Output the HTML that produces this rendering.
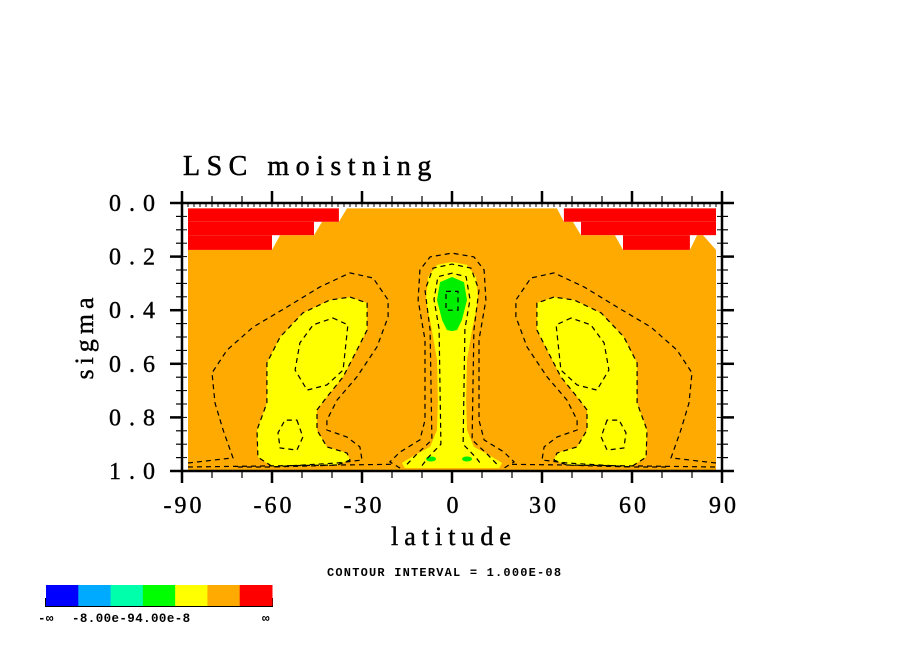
<!DOCTYPE html>
<html><head><meta charset="utf-8"><style>
body{margin:0;background:#fff;}
svg{display:block;font-family:"Liberation Serif",serif;}
</style></head><body>
<svg id="chart" width="904" height="654" viewBox="0 0 904 654" xmlns="http://www.w3.org/2000/svg">
<rect width="904" height="654" fill="#fff"/>
<g id="fills"></g>
<g id="lines"></g>
<g id="axes"></g>
<text x="183" y="175" font-size="28" letter-spacing="6.5" stroke="#000" stroke-width="0.5">LSC moistning</text>
<text x="454" y="545" font-size="26" letter-spacing="6" text-anchor="middle" stroke="#000" stroke-width="0.4">latitude</text>
<text transform="translate(93,336) rotate(-90)" font-size="26" letter-spacing="5" text-anchor="middle" stroke="#000" stroke-width="0.4">sigma</text>
<text x="327" y="576" font-family="Liberation Mono, monospace" font-weight="bold" font-size="12" letter-spacing="1.2">CONTOUR INTERVAL = 1.000E-08</text>
<g id="cbar"></g>
</svg>
<script>
const xTickLabels=["-90","-60","-30","0","30","60","90"];
const xTickValues=[-90,-60,-30,0,30,60,90];
const yTickLabels=["0.0","0.2","0.4","0.6","0.8","1.0"];
const yTickValues=[0,0.2,0.4,0.6,0.8,1.0];
const cbarColors=["#0000ff","#00aaff","#00ffaa","#00ff00","#ffff00","#ffaa00","#ff0000"];
// orange (field > 0) region [lat, sigma]
const orangeRegion=[[-88,1],[-88,.175],[-60,.175],[-57.3,.12],[-46,.12],[-43.3,.07],[-37.7,.07],[-35,.02],[35,.02],[37.3,.07],[40.3,.07],[43,.12],[54.3,.12],[57,.175],[79.3,.175],[81.7,.12],[83.7,.12],[88,.175],[88,1]];
// red blocks [lat0, lat1, sigma0, sigma1]
const redBlocks=[[-88,-37.7,.02,.07],[-88,-46,.07,.12],[-88,-60,.12,.175],[37.3,88,.02,.07],[43,88,.07,.12],[57,79.3,.12,.175]];
// left yellow blob (mirrored to right)
const yellowBlob=[[-34,.351],[-28.3,.373],[-28.3,.474],[-31.7,.549],[-36.3,.649],[-41.7,.724],[-45,.772],[-45,.847],[-41.7,.91],[-35,.933],[-34,.959],[-38.3,.978],[-59.7,.985],[-64.7,.948],[-65,.847],[-61.7,.746],[-61.7,.597],[-57.3,.5],[-49.7,.41],[-40.7,.362]];
const innerLoop=[[-39.7,.429],[-34.7,.455],[-36.3,.623],[-41.7,.679],[-48.3,.698],[-52.3,.623],[-50.7,.522],[-46.3,.455]];
const lowerLoop=[[-51.7,.81],[-49.7,.873],[-51.7,.922],[-57.3,.914],[-58,.858],[-55.7,.81]];
const outerContour=[[-88,.97],[-73,.951],[-76.3,.847],[-79,.746],[-80,.634],[-75,.549],[-66.3,.463],[-55,.388],[-44,.313],[-34,.261],[-26.3,.28],[-21.3,.362],[-21.3,.425],[-25,.537],[-31.7,.649],[-38.3,.735],[-41.7,.81],[-41.7,.847],[-35,.873],[-30.7,.91],[-30,.959],[-38.3,.97],[-60.7,.985],[-71.7,.985]];
// central column, left half (mirrored)
const columnYellow=[[0,.22],[-5,.231],[-8,.276],[-8.7,.362],[-6.7,.474],[-5,.586],[-4.7,.735],[-5,.847],[-7.3,.91],[-12.3,.94],[-16.7,.97],[-15.7,.989]];
const columnGreen=[[0,.276],[-4,.295],[-5,.362],[-3.3,.437],[-1.7,.474],[0,.478]];
const columnOuter=[[0,.187],[-7.3,.201],[-10.7,.25],[-11.3,.362],[-9,.511],[-9,.81],[-10.7,.884],[-17.3,.929],[-20.7,.966],[-17.3,.989]];
const columnMid=[[0,.228],[-6.3,.243],[-9,.325],[-7.3,.474],[-6.7,.884],[-12,.94],[-15,.975]];
const columnInner=[[0,.262],[-4.7,.275],[-6,.36],[-4.3,.47],[-3.7,.9],[-8,.95],[-10,.98]];
const columnCore=[[-2,.33],[2,.33],[2,.4],[-2,.4]];
const greenSpots=[[-7,.955],[5,.955]];

const NS="http://www.w3.org/2000/svg";
const X=lat=>452+lat*3, Y=s=>203+s*268;
const mir=a=>a.map(p=>[-p[0],p[1]]);
function pts(a){return a.map(p=>X(p[0]).toFixed(1)+","+Y(p[1]).toFixed(1)).join(" ");}
function mk(tag,parent,attrs){const e=document.createElementNS(NS,tag);for(const k in attrs)e.setAttribute(k,attrs[k]);document.getElementById(parent).appendChild(e);return e;}
function poly(parent,a,fill,name,closed){
  const e=mk(closed?"polygon":"polyline",parent,{points:pts(a),fill:fill,stroke:fill==="none"?"#000":"none","stroke-width":1.2,"stroke-dasharray":fill==="none"?"5,4":"none"});
  
  
  return e;}
poly("fills",orangeRegion,"#ffaa00","orange-region",true);
redBlocks.forEach(b=>{const r=mk("rect","fills",{x:X(b[0]),y:Y(b[2]),width:X(b[1])-X(b[0]),height:Y(b[3])-Y(b[2]),fill:"#ff0000"});
  
  });
poly("fills",yellowBlob,"#ffff00","yellow-blob-south",true);
poly("fills",mir(yellowBlob),"#ffff00","yellow-blob-north",true);
const colFull=columnYellow.concat(mir(columnYellow).reverse());
poly("fills",colFull,"#ffff00","yellow-column",true);
poly("fills",columnGreen.concat(mir(columnGreen).reverse()),"#00ee00","green-core",true);
greenSpots.forEach(g=>{const e=mk("ellipse","fills",{cx:X(g[0]),cy:Y(g[1]),rx:5,ry:2.5,fill:"#00ee00"});
  
  });
[innerLoop,lowerLoop].forEach(a=>{poly("lines",a,"none","contour-loop",true);poly("lines",mir(a),"none","contour-loop",true);});
poly("lines",yellowBlob,"none","contour-line",true);poly("lines",mir(yellowBlob),"none","contour-line",true);
poly("lines",outerContour,"none","contour-line",false);poly("lines",mir(outerContour),"none","contour-line",false);
[columnOuter,columnMid,columnInner].forEach(a=>poly("lines",a.slice().reverse().concat(mir(a).slice(1)),"none","contour-line",false));
poly("lines",columnCore,"none","contour-core",true);
poly("lines",[[-88,.985],[-20,.975]],"none","contour-line",false);
poly("lines",[[20,.975],[88,.985]],"none","contour-line",false);

// axes
const L=X(-90),R=X(90),T=Y(0),B=Y(1);
const fr=mk("rect","axes",{x:L,y:T,width:R-L,height:B-T,fill:"none",stroke:"#000","stroke-width":2.5});


function ln(x1,y1,x2,y2,w){mk("line","axes",{x1,y1,x2,y2,stroke:"#000","stroke-width":w});}
for(let lat=-90;lat<=90;lat+=10){const maj=lat%30===0,x=X(lat),l=maj?12:7;ln(x,T,x,T-l,maj?2.5:1.2);ln(x,B,x,B+l,maj?2.5:1.2);}
for(let lat=-88;lat<=88;lat+=2){ln(X(lat),T,X(lat),T+4,1);}
for(let i=0;i<=20;i++){const s=i*0.05,y=Y(s),maj=i%4===0;ln(L,y,L-(maj?12:6),y,maj?2.5:1.2);ln(R,y,R+(maj?12:6),y,maj?2.5:1.2);ln(L,y,L+5,y,1);ln(R,y,R-5,y,1);}
xTickValues.forEach((v,i)=>{const t=mk("text","axes",{x:X(v)+2,y:513,"font-size":24,"text-anchor":"middle","letter-spacing":3,stroke:"#000","stroke-width":0.4});t.textContent=xTickLabels[i];
  
  });
yTickValues.forEach((v,i)=>{const t=mk("text","axes",{x:156,y:Y(v)+8,"font-size":24,"text-anchor":"end","letter-spacing":1,stroke:"#000","stroke-width":0.4});t.textContent=yTickLabels[i].split("").join(" ");
  
  });

// colorbar
const cw=226/cbarColors.length;
cbarColors.forEach((c,i)=>{const r=mk("rect","cbar",{x:46+i*cw,y:585,width:cw+0.5,height:21,fill:c});
  
  
  ln(46+i*cw,601,46+i*cw,606,1);});
ln(46,606,272,606,2);ln(46,598,46,607,2);ln(272,598,272,607,2);
[["-∞",38],["-8.00e-94.00e-8",72],["∞",262]].forEach(l=>{
  const cl=mk("text","cbar",{x:l[1],y:622,"font-family":"Liberation Mono, monospace","font-weight":"bold","font-size":12.5,"letter-spacing":0.4});
  cl.textContent=l[0];
  
  
});
</script>
</body></html>
